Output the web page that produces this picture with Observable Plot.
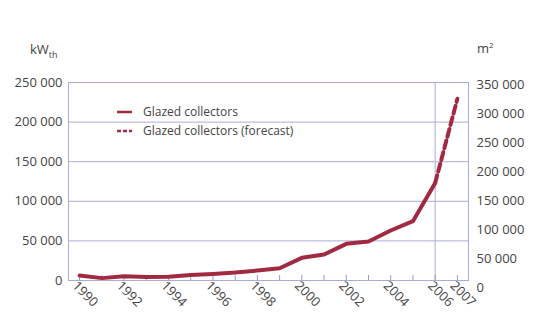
<!DOCTYPE html>
<html>
<head>
<meta charset="utf-8">
<script src="https://cdn.jsdelivr.net/npm/d3@7"></script>
<script src="https://cdn.jsdelivr.net/npm/@observablehq/plot@0.6"></script>
<style>
  html, body { margin: 0; padding: 0; background: #fff; }
  #wrap { position: relative; width: 553px; height: 318px; font-family: "Open Sans", sans-serif; color: #444; }
  .unit { position: absolute; font-size: 13px; color: #444; }
  #legend { position: absolute; left: 117px; top: 102px; font-size: 12px; color: #444; line-height: 19px; }
  #legend div { display: flex; align-items: center; }
  #legend svg { margin-right: 11px; }
</style>
</head>
<body>
<div id="wrap">
  <div class="unit" style="left:30px; top:40px;">kW<sub style="font-size:9px;">th</sub></div>
  <div class="unit" style="left:477px; top:39px;">m<sup style="font-size:8px;">2</sup></div>
  <div id="legend"></div>
</div>
<script>
// Data (kW_th)
const years = [1990,1991,1992,1993,1994,1995,1996,1997,1998,1999,2000,2001,2002,2003,2004,2005,2006];
const kw = [6300,3000,5400,4300,4600,7000,8300,10000,12600,15500,28600,32800,46300,49200,63100,74900,123000];
const forecastYears = [2006, 2007];
const forecastKw = [123000, 229500];
const leftTicks = [0,50000,100000,150000,200000,250000];
const rightTicksM2 = [0,50000,100000,150000,200000,250000,300000,350000];
const tickYears = d3.range(1990, 2008);
const labelYears = [1990,1992,1994,1996,1998,2000,2002,2004,2006,2007];
const legendLabels = ["Glazed collectors", "Glazed collectors (forecast)"];

const fmt = v => d3.format(",")(v).replace(/,/g, " ");
// right axis (m2) as drawn in the reference: 0 sits slightly below the kW baseline
const m2ToKw = m => (m / 350000 * 203 - 7) * (250000 / 198);
const kwToM2 = d => Math.round((d * 198 / 250000 + 7) / 203 * 350000 / 1000) * 1000;

const lineColor = "#a12a42";
const gridColor = "#aaaadd";

const data = years.map((y, i) => ({year: y, v: kw[i]}));
const fdata = forecastYears.map((y, i) => ({year: y, v: forecastKw[i]}));

const chart = Plot.plot({
  width: 553,
  height: 318,
  marginLeft: 68,
  marginRight: 85,
  marginTop: 82,
  marginBottom: 38,
  style: {fontFamily: "Open Sans, sans-serif", fontSize: "13px", color: "#444", background: "transparent"},
  x: {domain: [1989.5, 2007.5]},
  y: {domain: [0, 250000]},
  marks: [
    Plot.gridY(leftTicks, {stroke: gridColor, strokeOpacity: 1}),
    Plot.ruleX([2006], {stroke: gridColor, strokeOpacity: 1}),
    Plot.frame({stroke: gridColor}),
    Plot.axisY(leftTicks, {anchor: "left", tickSize: 0, tickPadding: 6, tickFormat: fmt, fill: "#444", fontSize: 13, label: null}),
    Plot.axisY(rightTicksM2.map(m2ToKw), {anchor: "right", tickSize: 0, tickPadding: 8, tickFormat: kwToM2 ? (d => fmt(kwToM2(d))) : null, fill: "#444", fontSize: 13, label: null}),
    Plot.axisX(tickYears, {anchor: "bottom", tickSize: 5, dy: -5, stroke: "#9a9ac4", tickFormat: () => "", label: null}),
    Plot.axisX(labelYears, {anchor: "bottom", tickSize: 0, tickPadding: 3, tickRotate: 45, tickFormat: d => String(d), fill: "#444", fontSize: 13, label: null, dx: -5}),
    Plot.line(data, {x: "year", y: "v", stroke: lineColor, strokeWidth: 4, strokeLinejoin: "round", strokeLinecap: "round"}),
    Plot.line(fdata, {x: "year", y: "v", stroke: lineColor, strokeWidth: 4, strokeDasharray: "8,4"})
  ]
});
document.getElementById("wrap").prepend(chart);
chart.style.position = "absolute";
chart.style.left = "0px";
chart.style.top = "0px";

const legend = document.getElementById("legend");
legendLabels.forEach((t, i) => {
  const row = document.createElement("div");
  row.innerHTML = `<svg width="15" height="4"><line x1="0" x2="15" y1="2" y2="2" stroke="${lineColor}" stroke-width="2.5" ${i === 1 ? 'stroke-dasharray="4,2"' : ''}/></svg><span>${t}</span>`;
  legend.appendChild(row);
});
</script>
</body>
</html>
